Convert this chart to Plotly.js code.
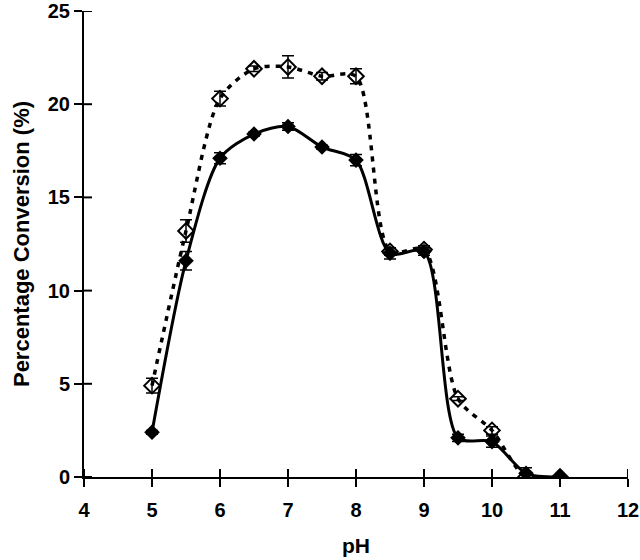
<!DOCTYPE html>
<html><head><meta charset="utf-8">
<script src="https://cdn.plot.ly/plotly-3.0.1.min.js"></script>
<style>body{margin:0;background:#fff}#c{width:640px;height:560px}</style>
</head><body><div id="c"></div>
<script>
const pH = [5, 5.5, 6, 6.5, 7, 7.5, 8, 8.5, 9, 9.5, 10, 10.5, 11];
const solidVals = [2.4, 11.6, 17.1, 18.4, 18.8, 17.7, 17.0, 12.0, 12.1, 2.1, 1.9, 0.2, 0.0];
const solidErr = [0.1, 0.5, 0.3, 0.1, 0.2, 0.1, 0.3, 0.3, 0.2, 0.2, 0.3, 0.3, 0.0];
const dashedVals = [4.9, 13.2, 20.3, 21.9, 22.0, 21.5, 21.5, 12.1, 12.2, 4.2, 2.5, 0.0, 0.0];
const dashedErr = [0.4, 0.6, 0.4, 0.15, 0.6, 0.2, 0.4, 0.2, 0.2, 0.1, 0.2, 0.1, 0.0];
const xTicks = [4, 5, 6, 7, 8, 9, 10, 11, 12];
const yTicks = [0, 5, 10, 15, 20, 25];

const fam = 'Liberation Sans, Arial, sans-serif';
const tickFont = {family: fam, size: 20, color: '#000', weight: 'bold'};
const traces = [
  {x: pH, y: dashedVals, type: 'scatter', mode: 'lines+markers',
   line: {color: '#000', width: 3.5, dash: '5px,6px', shape: 'spline', smoothing: 0.8},
   marker: {symbol: 'diamond-open', size: 12, color: '#000', line: {width: 2, color: '#000'}},
   error_y: {type: 'data', array: dashedErr, visible: true, color: '#000', thickness: 1.5, width: 6}},
  {x: pH, y: solidVals, type: 'scatter', mode: 'lines+markers',
   line: {color: '#000', width: 3, shape: 'spline', smoothing: 0.8},
   marker: {symbol: 'diamond', size: 12, color: '#000'},
   error_y: {type: 'data', array: solidErr, visible: true, color: '#000', thickness: 1.5, width: 6}}
];
// inner halves of the crossing tick marks, placed at the axes' own tick values
const tickShapes = [
  ...xTicks.map(v => ({type: 'line', xref: 'x', yref: 'paper', ysizemode: 'pixel', yanchor: 0,
                       x0: v, x1: v, y0: 0, y1: 8, line: {color: '#000', width: 2}, layer: 'above'})),
  ...yTicks.map(v => ({type: 'line', yref: 'y', xref: 'paper', xsizemode: 'pixel', xanchor: 0,
                       y0: v, y1: v, x0: 0, x1: 8, line: {color: '#000', width: 2}, layer: 'above'}))
];
const layout = {
  width: 640, height: 560,
  margin: {l: 84, r: 12, t: 11, b: 83},
  paper_bgcolor: '#fff', plot_bgcolor: '#fff',
  showlegend: false,
  font: {family: fam, size: 20, color: '#000'},
  shapes: tickShapes,
  xaxis: {range: [4, 12], tickvals: xTicks, ticks: 'outside', ticklen: 8, tickwidth: 2, tickcolor: '#000',
          showline: true, linecolor: '#000', linewidth: 2, showgrid: false, zeroline: false,
          tickfont: tickFont, ticklabeloverflow: 'allow', ticklabelstandoff: 6,
          title: {text: '<b>pH</b>', font: {family: fam, size: 21, color: '#000'}, standoff: 18}},
  yaxis: {range: [0, 25], tickvals: yTicks, ticks: 'outside', ticklen: 8, tickwidth: 2, tickcolor: '#000',
          showline: true, linecolor: '#000', linewidth: 2, showgrid: false, zeroline: false,
          tickfont: tickFont, ticklabeloverflow: 'allow',
          title: {text: '<b>Percentage Conversion (%)</b>', font: {family: fam, size: 22, color: '#000'}, standoff: 12}}
};
Plotly.newPlot('c', traces, layout, {staticPlot: true});
</script></body></html>
